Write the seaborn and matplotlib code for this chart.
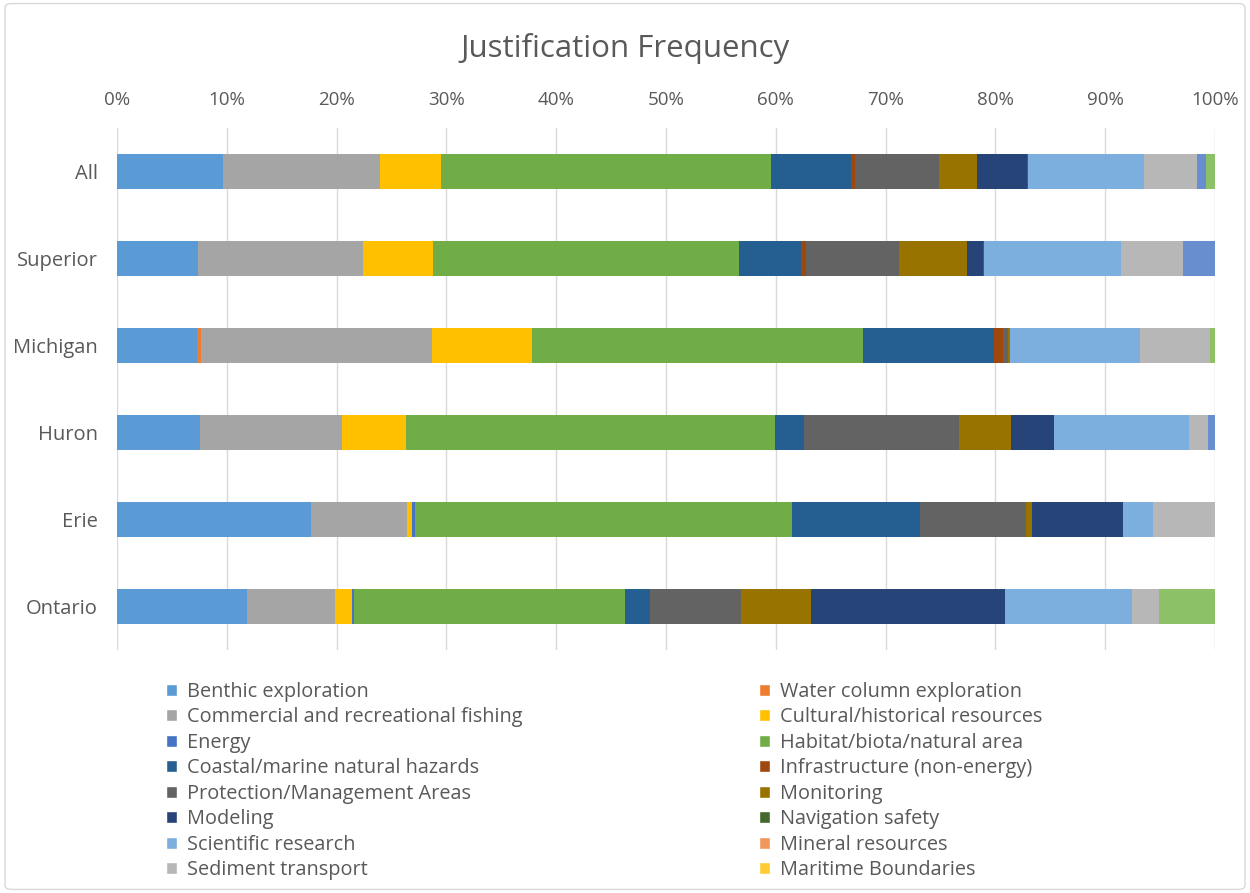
import numpy as np
import pandas as pd
import seaborn as sns
import matplotlib.pyplot as plt
from matplotlib.patches import Patch, FancyBboxPatch

sns.set_theme(style="white")
plt.rcParams['font.family'] = ['Open Sans', 'DejaVu Sans']

# 数据：各湖泊的理由占比（%）
lakes = ["All", "Superior", "Michigan", "Huron", "Erie", "Ontario"]

benthic      = [9.66, 7.38, 7.25, 7.58, 17.63, 11.87]
water_column = [0, 0, 0.36, 0, 0, 0]
fishing      = [14.31, 15.03, 21.05, 12.95, 8.79, 8.01]
cultural     = [5.57, 6.38, 9.17, 5.75, 0.48, 1.53]
energy       = [0, 0, 0, 0, 0.20, 0.16]
habitat      = [30.06, 27.90, 30.12, 33.69, 34.42, 24.72]
hazards      = [7.29, 5.56, 11.92, 2.61, 11.59, 2.25]
infra        = [0.36, 0.50, 0.86, 0, 0, 0]
protection   = [7.58, 8.44, 0.46, 14.14, 9.67, 8.31]
monitoring   = [3.48, 6.23, 0.17, 4.67, 0.53, 6.40]
modeling     = [4.57, 1.45, 0, 3.97, 8.28, 17.61]
navigation   = [0.13, 0.13, 0, 0, 0, 0]
scientific   = [10.50, 12.42, 11.79, 12.26, 2.78, 11.59]
mineral      = [0, 0, 0, 0, 0, 0]
sediment     = [4.83, 5.70, 6.35, 1.75, 5.63, 2.42]
maritime     = [0, 0, 0, 0, 0, 0]
extra_blue   = [0.83, 2.88, 0, 0.63, 0, 0]   # 图例中未显示的系列
extra_green  = [0.83, 0, 0.50, 0, 0, 5.13]

series_names = ["Benthic exploration", "Water column exploration",
                "Commercial and recreational fishing", "Cultural/historical resources",
                "Energy", "Habitat/biota/natural area",
                "Coastal/marine natural hazards", "Infrastructure (non-energy)",
                "Protection/Management Areas", "Monitoring",
                "Modeling", "Navigation safety",
                "Scientific research", "Mineral resources",
                "Sediment transport", "Maritime Boundaries",
                "", ""]
series_vals = [benthic, water_column, fishing, cultural, energy, habitat, hazards,
               infra, protection, monitoring, modeling, navigation, scientific,
               mineral, sediment, maritime, extra_blue, extra_green]
colors = ["#5B9BD5", "#ED7D31", "#A5A5A5", "#FFC000", "#4472C4", "#70AD47",
          "#255E91", "#9E480E", "#636363", "#997300", "#264478", "#43682B",
          "#7CAFDD", "#F1975A", "#B7B7B7", "#FFCD33", "#698ED0", "#8CC168"]

df = pd.DataFrame(np.array(series_vals).T, index=lakes, columns=range(len(series_vals)))
cum = df.cumsum(axis=1)

fig = plt.figure(figsize=(12.5, 8.93), dpi=100)
ax = fig.add_axes([0.0936, 0.2721, 0.8784, 0.5846])

# 从最后一个系列往前画累积值，形成堆叠条形
for i in reversed(range(len(series_vals))):
    sns.barplot(x=cum[i].values, y=lakes, color=colors[i], saturation=1,
                orient="h", width=0.41, linewidth=0, ax=ax)

ax.set_xlim(0, 100)
ax.set_ylim(5.5, -0.5)
ax.set_xticks(range(0, 101, 10))
ax.set_xticklabels([f"{t}%" for t in range(0, 101, 10)])
ax.xaxis.tick_top()
ax.tick_params(axis="both", length=0, colors="#595959")
ax.tick_params(axis="x", pad=14, labelsize=13.5)
ax.tick_params(axis="y", pad=14, labelsize=14.5)
ax.xaxis.grid(True, color="#D9D9D9", linewidth=1)
ax.set_axisbelow(True)
for s in ax.spines.values():
    s.set_visible(False)
ax.set_xlabel("")
ax.set_ylabel("")

fig.text(0.5, 1 - 48 / 893, "Justification Frequency", ha="center", va="center",
         fontsize=22.5, color="#595959")

# 图例：两列，按行排列
handles = [Patch(facecolor=colors[i], label=series_names[i]) for i in range(16)]
leg_kw = dict(loc="upper left", frameon=False, fontsize=14.3, handlelength=0.55,
              handleheight=0.55, handletextpad=0.5, labelspacing=0.275,
              borderpad=0, borderaxespad=0, labelcolor="#595959")
leg1 = fig.legend(handles[0:16:2], series_names[0:16:2],
                  bbox_to_anchor=(166 / 1250, 1 - 682 / 893), **leg_kw)
leg2 = fig.legend(handles[1:16:2], series_names[1:16:2],
                  bbox_to_anchor=(759 / 1250, 1 - 682 / 893), **leg_kw)

fig.patches.append(FancyBboxPatch((0.004, 0.004), 0.992, 0.992, boxstyle="round,pad=0,rounding_size=0.005",
                                  transform=fig.transFigure, facecolor="none",
                                  edgecolor="#D9D9D9", linewidth=1))

fig.savefig("out.png", dpi=100, facecolor="white")
